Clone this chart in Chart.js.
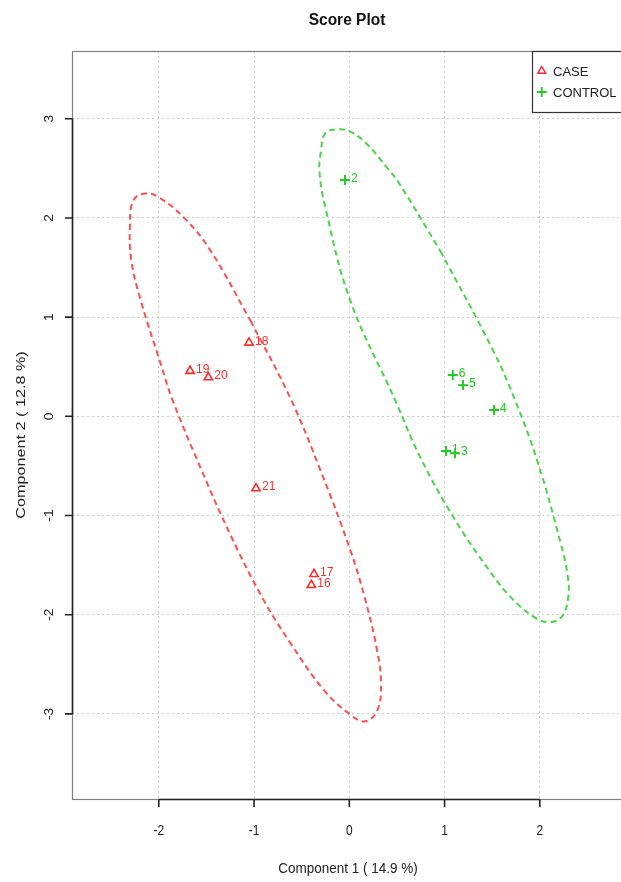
<!DOCTYPE html>
<html><head><meta charset="utf-8">
<script src="https://cdn.jsdelivr.net/npm/chart.js@4.4.1/dist/chart.umd.min.js"></script>
<style>html,body{margin:0;padding:0;background:#fff;} canvas{display:block;}</style>
</head><body>
<canvas id="c" width="621" height="882" style="width:621px;height:882px"></canvas>
<script>
// ---- data ----
const caseLabels = ['16', '17', '18', '19', '20', '21'];
const caseX = [-0.399, -0.371, -1.053, -1.672, -1.480, -0.980];
const caseY = [-1.701, -1.590, 0.742, 0.457, 0.393, -0.726];

const controlLabels = ['1', '2', '3', '4', '5', '6'];
const controlX = [1.015, -0.045, 1.110, 1.519, 1.194, 1.086];
const controlY = [-0.350, 2.382, -0.373, 0.063, 0.315, 0.416];

const xTicks = [-2, -1, 0, 1, 2];
const yTicks = [-3, -2, -1, 0, 1, 2, 3];

// outline of the 95% ellipses
const caseEllipseX = [-1.038, -0.618, -0.304, 0.010, 0.168, 0.290, 0.332, 0.297, 0.168, 0.010, -0.269, -0.618, -0.912, -1.247, -1.551, -1.855, -1.981, -2.190, -2.288, -2.303, -2.266, -2.138, -1.999, -1.737, -1.457, -1.038];
const caseEllipseY = [0.966, 0.181, -0.543, -1.348, -1.851, -2.354, -2.686, -2.958, -3.075, -3.008, -2.757, -2.287, -1.831, -1.197, -0.543, 0.161, 0.533, 1.170, 1.569, 1.920, 2.179, 2.246, 2.206, 2.005, 1.670, 0.966];
const controlEllipseX = [0.954, 1.509, 1.740, 1.981, 2.219, 2.288, 2.299, 2.230, 2.089, 1.932, 1.688, 1.478, 1.111, 0.744, 0.482, 0.010, -0.252, -0.314, -0.297, -0.255, -0.129, 0.010, 0.186, 0.395, 0.517, 0.954];
const controlEllipseY = [1.670, 0.664, 0.161, -0.473, -1.281, -1.582, -1.818, -2.019, -2.075, -2.019, -1.818, -1.566, -1.046, -0.412, 0.161, 1.167, 2.106, 2.475, 2.676, 2.853, 2.894, 2.870, 2.743, 2.508, 2.357, 1.670];

const seriesNames = ['CASE', 'CONTROL'];
const titleText = 'Score Plot';
const xTitle = 'Component 1 ( 14.9 %)';
const yTitle = 'Component 2 ( 12.8 %)';

// ---- styles ----
const RED = '#ff2a2a';
const GREEN = '#22c922';
const RED_LINE = '#ff4f4f';
const GREEN_LINE = '#48d648';
const FONT = '"Liberation Sans", Arial, sans-serif';

const zip = (xs, ys) => xs.map((x, i) => ({x: x, y: ys[i]}));

const decor = {
  id: 'decor',
  afterDatasetsDraw(chart) {
    const ctx = chart.ctx;
    const a = chart.chartArea;
    const xs = chart.scales.x, ys = chart.scales.y;
    ctx.save();
    // frame
    ctx.strokeStyle = '#808080';
    ctx.lineWidth = 1.2;
    ctx.strokeRect(a.left + 0.5, a.top + 0.5, a.right - a.left + 10, a.bottom - a.top);
    // axes
    ctx.strokeStyle = '#222';
    ctx.lineWidth = 1.6;
    const yTop = ys.getPixelForValue(yTicks[yTicks.length - 1]);
    const yBot = ys.getPixelForValue(yTicks[0]);
    ctx.beginPath();
    ctx.moveTo(a.left + 0.5, yTop); ctx.lineTo(a.left + 0.5, yBot);
    yTicks.forEach(v => { const p = ys.getPixelForValue(v); ctx.moveTo(a.left - 7, p); ctx.lineTo(a.left + 0.5, p); });
    const xL = xs.getPixelForValue(xTicks[0]);
    const xR = xs.getPixelForValue(xTicks[xTicks.length - 1]);
    ctx.moveTo(xL, a.bottom + 0.5); ctx.lineTo(xR, a.bottom + 0.5);
    xTicks.forEach(v => { const p = xs.getPixelForValue(v); ctx.moveTo(p, a.bottom + 0.5); ctx.lineTo(p, a.bottom + 8); });
    ctx.stroke();

    // tick labels
    ctx.fillStyle = '#222';
    ctx.font = '12px ' + FONT;
    ctx.textAlign = 'center';
    ctx.textBaseline = 'middle';
    xTicks.forEach(v => {
      ctx.save();
      ctx.translate(xs.getPixelForValue(v), a.bottom + 32);
      ctx.scale(1, 1.15);
      ctx.fillText(String(v), 0, 0);
      ctx.restore();
    });
    yTicks.forEach(v => {
      ctx.save();
      ctx.translate(a.left - 22, ys.getPixelForValue(v));
      ctx.rotate(-Math.PI / 2);
      ctx.scale(1.15, 1);
      ctx.fillText(String(v), 0, 0);
      ctx.restore();
    });

    // axis titles
    ctx.font = '13.5px ' + FONT;
    ctx.save();
    ctx.translate(348, 869);
    ctx.scale(1, 1.1);
    ctx.fillText(xTitle, 0, 0);
    ctx.restore();
    ctx.save();
    ctx.translate(21, 435);
    ctx.rotate(-Math.PI / 2);
    ctx.scale(1.2, 1);
    ctx.fillText(yTitle, 0, 0);
    ctx.restore();

    // title
    ctx.font = 'bold 15.5px ' + FONT;
    ctx.fillStyle = '#111';
    ctx.save();
    ctx.translate(347, 20);
    ctx.scale(1, 1.12);
    ctx.fillText(titleText, 0, 0);
    ctx.restore();

    // point labels
    ctx.font = '12px ' + FONT;
    ctx.textAlign = 'left';
    ctx.fillStyle = RED;
    caseX.forEach((x, i) => ctx.fillText(caseLabels[i], xs.getPixelForValue(x) + 6, ys.getPixelForValue(caseY[i]) - 1.5));
    ctx.fillStyle = GREEN;
    controlX.forEach((x, i) => ctx.fillText(controlLabels[i], xs.getPixelForValue(x) + 6, ys.getPixelForValue(controlY[i]) - 1.5));

    // legend
    const lx = 532.5, ly = a.top + 0.5;
    ctx.fillStyle = '#fff';
    ctx.fillRect(lx, ly, 120, 61);
    ctx.strokeStyle = '#333';
    ctx.lineWidth = 1.2;
    ctx.strokeRect(lx, ly, 120, 61);
    // triangle
    ctx.strokeStyle = RED;
    ctx.lineWidth = 1.5;
    const tx = 541.7, ty = 71;
    const r = 4.5;
    ctx.beginPath();
    ctx.moveTo(tx, ty - r);
    ctx.lineTo(tx + r * 0.866, ty + r * 0.5);
    ctx.lineTo(tx - r * 0.866, ty + r * 0.5);
    ctx.closePath();
    ctx.stroke();
    // plus
    ctx.strokeStyle = GREEN;
    ctx.lineWidth = 1.8;
    ctx.beginPath();
    ctx.moveTo(tx - 5, 92); ctx.lineTo(tx + 5, 92);
    ctx.moveTo(tx, 87); ctx.lineTo(tx, 97);
    ctx.stroke();
    ctx.fillStyle = '#222';
    ctx.font = '13px ' + FONT;
    ctx.textAlign = 'left';
    ctx.fillText(seriesNames[0], 553, 72);
    ctx.fillText(seriesNames[1], 553, 93);
    ctx.restore();
  }
};

const gridOpts = {
  color: '#c9c9c9',
  lineWidth: 1,
  drawTicks: false
};

new Chart(document.getElementById('c'), {
  type: 'scatter',
  data: {
    datasets: [
      {
        type: 'line', label: 'CASE ellipse', data: zip(caseEllipseX, caseEllipseY),
        showLine: true, fill: false, pointRadius: 0, borderColor: RED_LINE, borderWidth: 2,
        borderDash: [6, 4], tension: 0.4
      },
      {
        type: 'line', label: 'CONTROL ellipse', data: zip(controlEllipseX, controlEllipseY),
        showLine: true, fill: false, pointRadius: 0, borderColor: GREEN_LINE, borderWidth: 2,
        borderDash: [6, 4], tension: 0.4
      },
      {
        label: seriesNames[0], data: zip(caseX, caseY), pointStyle: 'triangle',
        pointRadius: 4.8, borderColor: RED, backgroundColor: 'rgba(0,0,0,0)', borderWidth: 1.6
      },
      {
        label: seriesNames[1], data: zip(controlX, controlY), pointStyle: 'cross',
        pointRadius: 5, borderColor: GREEN, backgroundColor: GREEN, borderWidth: 1.9
      }
    ]
  },
  options: {
    responsive: false,
    animation: false,
    devicePixelRatio: 1,
    layout: {autoPadding: false, padding: {left: 72, top: 51, right: 0, bottom: 83}},
    plugins: {legend: {display: false}, title: {display: false}, tooltip: {enabled: false}},
    scales: {
      x: {
        type: 'linear', min: -2.911, max: 2.852,
        afterBuildTicks: s => { s.ticks = xTicks.map(v => ({value: v})); },
        ticks: {display: false},
        grid: gridOpts,
        border: {display: false, dash: [2, 3]}
      },
      y: {
        type: 'linear', min: -3.858, max: 3.683,
        afterBuildTicks: s => { s.ticks = yTicks.map(v => ({value: v})); },
        ticks: {display: false},
        grid: gridOpts,
        border: {display: false, dash: [2, 3]}
      }
    }
  },
  plugins: [decor]
});
</script>
</body></html>
